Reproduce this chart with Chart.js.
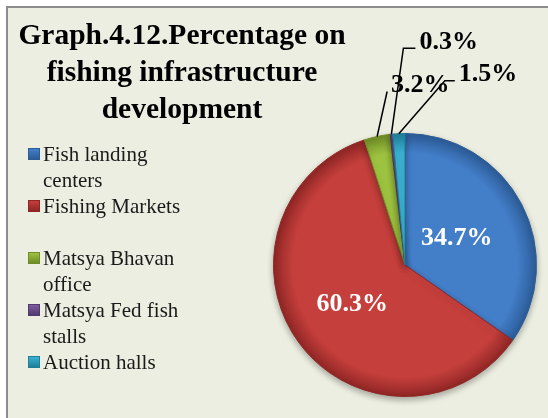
<!DOCTYPE html>
<html>
<head>
<meta charset="utf-8">
<script src="https://cdn.jsdelivr.net/npm/chart.js@4.4.3/dist/chart.umd.min.js"></script>
<style>
  html, body { margin: 0; padding: 0; width: 548px; height: 418px; overflow: hidden; background: #ffffff; }
  .frame {
    position: absolute; left: 6px; top: 6px; width: 560px; height: 430px;
    border: 2px solid #8c8c8c; background: #ebeee0;
  }
  #chart-wrap { position: absolute; left: 0; top: 0; width: 548px; height: 418px; }
  .title {
    position: absolute; left: 11px; top: 16px; width: 342px;
    font-family: "Liberation Serif", "Times New Roman", serif; font-weight: bold;
    font-size: 29.5px; line-height: 37px; text-align: center; color: #000;
  }
  .legend {
    position: absolute; left: 28px; top: 141px; width: 175px;
    font-family: "Liberation Serif", "Times New Roman", serif; font-size: 21px; color: #1a1a1a;
  }
  .legend-item { position: relative; height: 52px; line-height: 26px; padding-left: 15px; }
  .legend-item .text { display: block; width: 150px; }
  .legend-item .box {
    position: absolute; left: 0; top: 7px; width: 12px; height: 12px;
  }
</style>
</head>
<body>
<div class="frame"></div>
<div id="chart-wrap"><canvas id="pie"></canvas></div>
<div class="title">Graph.4.12.Percentage on fishing infrastructure development</div>
<div class="legend" id="legend"></div>
<script>
const categories = [
  "Fish landing centers",
  "Fishing Markets",
  "Matsya Bhavan office",
  "Matsya Fed fish stalls",
  "Auction halls",
];
const shares = [34.7, 60.3, 3.2, 0.3, 1.5];
const sliceColors = ["#437ec9", "#c53f3c", "#9dc23f", "#7b5c9f", "#3bb2d4"];
const edgeColors = ["#2c5c97", "#8f2624", "#6f8c26", "#54396f", "#1f7f99"];

// leader lines for the thin slices: [dx, dy, horizontal run] from the arc rim
const leaders = [null, null, [10, -45, 0], [12, -86, 12], [46, -53, 10]];

const legendEl = document.getElementById("legend");
categories.forEach((name, i) => {
  const item = document.createElement("div");
  item.className = "legend-item";
  const box = document.createElement("span");
  box.className = "box";
  box.style.background = `linear-gradient(180deg, ${sliceColors[i]} 0%, ${edgeColors[i]} 100%)`;
  box.style.border = `1px solid ${edgeColors[i]}`;
  box.style.boxSizing = "border-box";
  const text = document.createElement("span");
  text.className = "text";
  text.textContent = name;
  item.appendChild(box);
  item.appendChild(text);
  legendEl.appendChild(item);
});

function shadeFill(context) {
  const chart = context.chart;
  const area = chart.chartArea;
  const i = context.dataIndex;
  if (!area) {
    return sliceColors[i];
  }
  const cx = (area.left + area.right) / 2;
  const cy = (area.top + area.bottom) / 2;
  const r = Math.min(area.right - area.left, area.bottom - area.top) / 2;
  const g = chart.ctx.createRadialGradient(cx, cy, 0, cx, cy, r);
  g.addColorStop(0, sliceColors[i]);
  g.addColorStop(0.85, sliceColors[i]);
  g.addColorStop(1, edgeColors[i]);
  return g;
}

const pieShadow = {
  id: "pieShadow",
  beforeDatasetsDraw(chart) {
    const ctx = chart.ctx;
    ctx.save();
    ctx.shadowColor = "rgba(0,0,0,0.3)";
    ctx.shadowBlur = 6;
    ctx.shadowOffsetY = 3;
  },
  afterDatasetsDraw(chart) {
    chart.ctx.restore();
  },
};

const sliceLabels = {
  id: "sliceLabels",
  afterDatasetsDraw(chart) {
    const ctx = chart.ctx;
    const arcs = chart.getDatasetMeta(0).data;
    ctx.save();
    ctx.font = "bold 26px 'Liberation Serif', 'Times New Roman', serif";
    ctx.textBaseline = "middle";
    arcs.forEach((arc, i) => {
      const text = `${shares[i].toFixed(1)}%`;
      const mid = (arc.startAngle + arc.endAngle) / 2;
      const leader = leaders[i];
      if (!leader) {
        const rr = arc.outerRadius * 0.47;
        ctx.fillStyle = "#ffffff";
        ctx.textAlign = "center";
        ctx.fillText(text, arc.x + Math.cos(mid) * rr - 3, arc.y + Math.sin(mid) * rr + 2);
        return;
      }
      const x0 = arc.x + Math.cos(mid) * arc.outerRadius;
      const y0 = arc.y + Math.sin(mid) * arc.outerRadius;
      const x1 = x0 + leader[0];
      const y1 = y0 + leader[1];
      const x2 = x1 + leader[2];
      ctx.strokeStyle = "#000000";
      ctx.lineWidth = 1.5;
      ctx.beginPath();
      ctx.moveTo(x0, y0);
      ctx.lineTo(x1, y1);
      ctx.lineTo(x2, y1);
      ctx.stroke();
      ctx.fillStyle = "#000000";
      ctx.textAlign = "left";
      ctx.fillText(text, x2 + 4, y1 - 6);
    });
    ctx.restore();
  },
};

new Chart(document.getElementById("pie"), {
  type: "pie",
  data: {
    labels: categories,
    datasets: [
      {
        data: shares,
        backgroundColor: shadeFill,
        borderColor: edgeColors,
        borderWidth: 1,
      },
    ],
  },
  options: {
    responsive: true,
    maintainAspectRatio: false,
    animation: false,
    layout: {
      padding: { left: 273, right: 11, top: 133, bottom: 21 },
    },
    plugins: {
      legend: { display: false },
      tooltip: { enabled: false },
    },
  },
  plugins: [pieShadow, sliceLabels],
});
</script>
</body>
</html>
